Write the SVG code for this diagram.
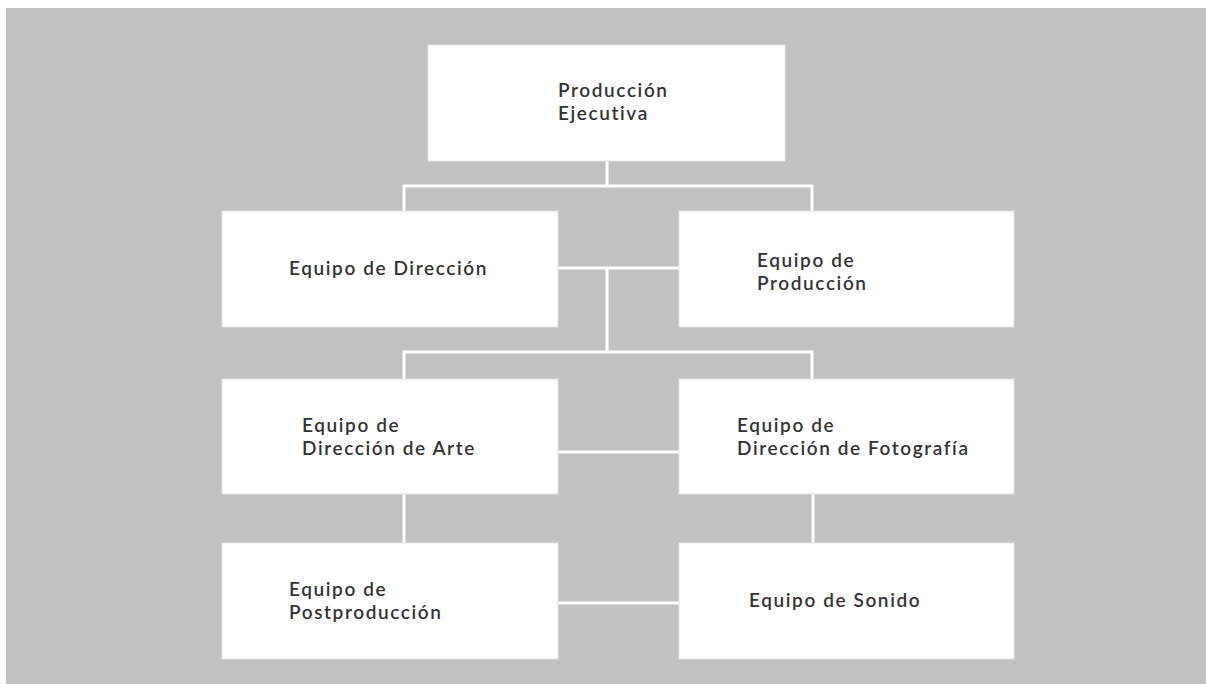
<svg xmlns="http://www.w3.org/2000/svg" width="1206" height="684" viewBox="0 0 1206 684">
<style>
.bg{fill:#c1c1c3}
.box{fill:#ffffff;stroke:#e4e4e4;stroke-width:1}
.lbl{font-family:Lato,"Open Sans",sans-serif;font-size:19px;font-weight:600;letter-spacing:1.6px;fill:#333333}
.con{fill:none;stroke:#ffffff;stroke-width:3}
</style>
<rect width="1206" height="684" fill="#ffffff"/>
<rect class="bg" x="6" y="8" width="1200" height="676"/>
<g id="connectors">
<path class="con" d="M607,161 V186 M404,211 V186 H812 V211"/>
<path class="con" d="M558,268 H679 M607,268 V352 M404,379 V352 H812 V379"/>
<path class="con" d="M558,452 H679"/>
<path class="con" d="M404,494 V543 M813,494 V543"/>
<path class="con" d="M558,603 H679"/>
</g>
<g id="n-ejecutiva">
<rect class="box" x="428" y="45" width="357" height="116"/>
<text class="lbl" x="558" y="97">Producción</text>
<text class="lbl" x="558" y="120">Ejecutiva</text>
</g>
<g id="n-direccion">
<rect class="box" x="222" y="211" width="336" height="116"/>
<text class="lbl" x="289" y="275">Equipo de Dirección</text>
</g>
<g id="n-produccion">
<rect class="box" x="679" y="211" width="335" height="116"/>
<text class="lbl" x="757" y="267">Equipo de</text>
<text class="lbl" x="757" y="290">Producción</text>
</g>
<g id="n-arte">
<rect class="box" x="222" y="379" width="336" height="115"/>
<text class="lbl" x="302" y="432">Equipo de</text>
<text class="lbl" x="302" y="455">Dirección de Arte</text>
</g>
<g id="n-fotografia">
<rect class="box" x="679" y="379" width="335" height="115"/>
<text class="lbl" x="737" y="432">Equipo de</text>
<text class="lbl" x="737" y="455">Dirección de Fotografía</text>
</g>
<g id="n-postproduccion">
<rect class="box" x="222" y="543" width="336" height="116"/>
<text class="lbl" x="289" y="596">Equipo de</text>
<text class="lbl" x="289" y="619">Postproducción</text>
</g>
<g id="n-sonido">
<rect class="box" x="679" y="543" width="335" height="116"/>
<text class="lbl" x="749" y="607">Equipo de Sonido</text>
</g>
</svg>
